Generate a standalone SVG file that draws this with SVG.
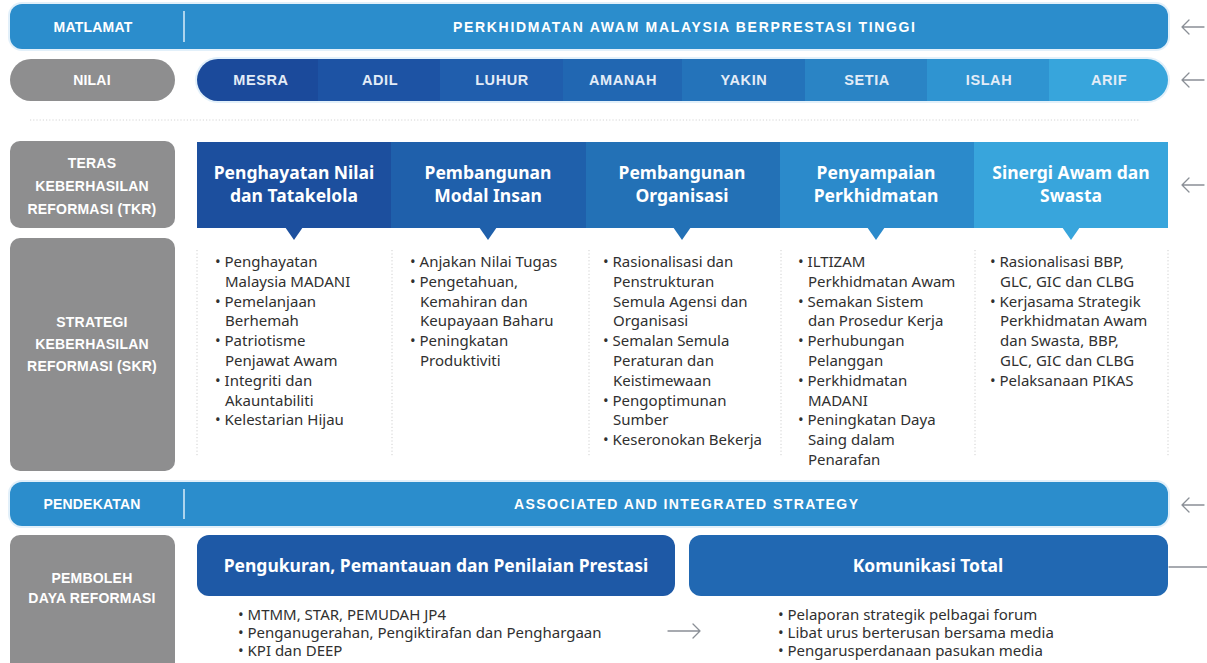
<svg xmlns="http://www.w3.org/2000/svg" width="1207" height="663" viewBox="0 0 1207 663">
<style>
.lbl{font-family:"Liberation Sans",Arial,sans-serif;font-weight:bold;font-size:14px;fill:#fff;text-anchor:middle;letter-spacing:0.2px}
.ttl{font-family:"Liberation Sans",Arial,sans-serif;font-weight:bold;font-size:14px;fill:#fff;letter-spacing:1px}
.val{font-family:"Liberation Sans",Arial,sans-serif;font-weight:bold;font-size:14.5px;fill:#e3ecf7;text-anchor:middle;letter-spacing:0.6px}
.hdr{font-family:"Noto Sans","Open Sans",sans-serif;font-weight:bold;font-size:17.5px;fill:#fff;text-anchor:middle}
.bul{font-family:"Noto Sans","Open Sans",sans-serif;font-size:15px;fill:#303030}
.gray{fill:#8e8e8f}
.bar{fill:#2b8dcc}
.glow{fill:#e2f0fa}
.div{stroke:#cfe6f6;stroke-width:1.6}
.sep{stroke:#cfcfcf;stroke-width:1;stroke-dasharray:1.2 2.2}
.arr{fill:none;stroke:#8a8f96;stroke-width:1.3;stroke-linecap:round;stroke-linejoin:round}
</style>
<defs>
<clipPath id="valclip"><rect x="197" y="59" width="971" height="42" rx="21"/></clipPath>
</defs>
<rect width="1207" height="663" fill="#fff"/>

<g id="matlamat">
<rect class="glow" x="8" y="2" width="1162" height="49" rx="14"/>
<rect class="bar" x="10" y="4" width="1158" height="45" rx="12"/>
<line class="div" x1="184" y1="11" x2="184" y2="42"/>
<text class="lbl" x="93" y="32">MATLAMAT</text>
<text class="ttl" x="453" y="32" textLength="463" lengthAdjust="spacing">PERKHIDMATAN AWAM MALAYSIA BERPRESTASI TINGGI</text>
</g>

<g id="nilai">
<rect class="gray" x="10" y="59" width="165" height="42" rx="21"/>
<text class="lbl" x="92" y="85">NILAI</text>
</g>

<g id="nilai-values">
<rect class="glow" x="195" y="57" width="975" height="46" rx="23"/>
<g clip-path="url(#valclip)">
<rect x="197" y="59" width="122" height="42" fill="#1b4a9b"/>
<rect x="318" y="59" width="123" height="42" fill="#1d53a4"/>
<rect x="440" y="59" width="124" height="42" fill="#205ead"/>
<rect x="563" y="59" width="120" height="42" fill="#2167b2"/>
<rect x="682" y="59" width="124" height="42" fill="#2473ba"/>
<rect x="805" y="59" width="123" height="42" fill="#2a84c5"/>
<rect x="927" y="59" width="123" height="42" fill="#2f94d1"/>
<rect x="1049" y="59" width="119" height="42" fill="#37a5dc"/>
</g>
<text class="val" x="261" y="85">MESRA</text>
<text class="val" x="380" y="85">ADIL</text>
<text class="val" x="502" y="85">LUHUR</text>
<text class="val" x="623" y="85">AMANAH</text>
<text class="val" x="744" y="85">YAKIN</text>
<text class="val" x="867" y="85">SETIA</text>
<text class="val" x="989" y="85">ISLAH</text>
<text class="val" x="1109" y="85">ARIF</text>
</g>

<line x1="30" y1="120" x2="1140" y2="120" stroke="#d4d4d4" stroke-width="1" stroke-dasharray="1.2 2"/>

<g id="tkr">
<rect class="gray" x="10" y="141" width="165" height="87" rx="10"/>
<text class="lbl" x="92" y="168">TERAS</text>
<text class="lbl" x="92" y="191">KEBERHASILAN</text>
<text class="lbl" x="92" y="214">REFORMASI (TKR)</text>
</g>

<g id="tkr-1">
<rect x="197" y="142" width="195" height="86" fill="#1c4f9e"/>
<path d="M285,227 L303,227 L294,240 Z" fill="#1c4f9e"/>
<text class="hdr" x="294" y="179">Penghayatan Nilai</text>
<text class="hdr" x="294" y="202">dan Tatakelola</text>
</g>
<g id="tkr-2">
<rect x="391" y="142" width="196" height="86" fill="#1f60ab"/>
<path d="M479,227 L497,227 L488,240 Z" fill="#1f60ab"/>
<text class="hdr" x="488" y="179">Pembangunan</text>
<text class="hdr" x="488" y="202">Modal Insan</text>
</g>
<g id="tkr-3">
<rect x="586" y="142" width="195" height="86" fill="#2371b6"/>
<path d="M673,227 L691,227 L682,240 Z" fill="#2371b6"/>
<text class="hdr" x="682" y="179">Pembangunan</text>
<text class="hdr" x="682" y="202">Organisasi</text>
</g>
<g id="tkr-4">
<rect x="780" y="142" width="195" height="86" fill="#2b8acb"/>
<path d="M867,227 L885,227 L876,240 Z" fill="#2b8acb"/>
<text class="hdr" x="876" y="179">Penyampaian</text>
<text class="hdr" x="876" y="202">Perkhidmatan</text>
</g>
<g id="tkr-5">
<rect x="974" y="142" width="194" height="86" fill="#38a5dc"/>
<path d="M1062,227 L1080,227 L1071,240 Z" fill="#38a5dc"/>
<text class="hdr" x="1071" y="179">Sinergi Awam dan</text>
<text class="hdr" x="1071" y="202">Swasta</text>
</g>

<g id="skr">
<rect class="gray" x="10" y="238" width="165" height="233" rx="10"/>
<text class="lbl" x="92" y="327">STRATEGI</text>
<text class="lbl" x="92" y="349">KEBERHASILAN</text>
<text class="lbl" x="92" y="371">REFORMASI (SKR)</text>
</g>

<g id="skr-separators">
<line class="sep" x1="197" y1="250" x2="197" y2="456"/>
<line class="sep" x1="392" y1="250" x2="392" y2="456"/>
<line class="sep" x1="589" y1="250" x2="589" y2="456"/>
<line class="sep" x1="781" y1="250" x2="781" y2="456"/>
<line class="sep" x1="975" y1="250" x2="975" y2="456"/>
<line class="sep" x1="1168" y1="250" x2="1168" y2="456"/>
</g>

<g id="skr-1">
<text class="bul">
<tspan x="215" y="267">• Penghayatan</tspan>
<tspan x="225" dy="19.8">Malaysia MADANI</tspan>
<tspan x="215" dy="19.8">• Pemelanjaan</tspan>
<tspan x="225" dy="19.8">Berhemah</tspan>
<tspan x="215" dy="19.8">• Patriotisme</tspan>
<tspan x="225" dy="19.8">Penjawat Awam</tspan>
<tspan x="215" dy="19.8">• Integriti dan</tspan>
<tspan x="225" dy="19.8">Akauntabiliti</tspan>
<tspan x="215" dy="19.8">• Kelestarian Hijau</tspan>
</text>
</g>
<g id="skr-2">
<text class="bul">
<tspan x="410" y="267">• Anjakan Nilai Tugas</tspan>
<tspan x="410" dy="19.8">• Pengetahuan,</tspan>
<tspan x="420" dy="19.8">Kemahiran dan</tspan>
<tspan x="420" dy="19.8">Keupayaan Baharu</tspan>
<tspan x="410" dy="19.8">• Peningkatan</tspan>
<tspan x="420" dy="19.8">Produktiviti</tspan>
</text>
</g>
<g id="skr-3">
<text class="bul">
<tspan x="603" y="267">• Rasionalisasi dan</tspan>
<tspan x="613" dy="19.8">Penstrukturan</tspan>
<tspan x="613" dy="19.8">Semula Agensi dan</tspan>
<tspan x="613" dy="19.8">Organisasi</tspan>
<tspan x="603" dy="19.8">• Semalan Semula</tspan>
<tspan x="613" dy="19.8">Peraturan dan</tspan>
<tspan x="613" dy="19.8">Keistimewaan</tspan>
<tspan x="603" dy="19.8">• Pengoptimunan</tspan>
<tspan x="613" dy="19.8">Sumber</tspan>
<tspan x="603" dy="19.8">• Keseronokan Bekerja</tspan>
</text>
</g>
<g id="skr-4">
<text class="bul">
<tspan x="798" y="267">• ILTIZAM</tspan>
<tspan x="808" dy="19.8">Perkhidmatan Awam</tspan>
<tspan x="798" dy="19.8">• Semakan Sistem</tspan>
<tspan x="808" dy="19.8">dan Prosedur Kerja</tspan>
<tspan x="798" dy="19.8">• Perhubungan</tspan>
<tspan x="808" dy="19.8">Pelanggan</tspan>
<tspan x="798" dy="19.8">• Perkhidmatan</tspan>
<tspan x="808" dy="19.8">MADANI</tspan>
<tspan x="798" dy="19.8">• Peningkatan Daya</tspan>
<tspan x="808" dy="19.8">Saing dalam</tspan>
<tspan x="808" dy="19.8">Penarafan</tspan>
</text>
</g>
<g id="skr-5">
<text class="bul">
<tspan x="990" y="267">• Rasionalisasi BBP,</tspan>
<tspan x="1000" dy="19.8">GLC, GIC dan CLBG</tspan>
<tspan x="990" dy="19.8">• Kerjasama Strategik</tspan>
<tspan x="1000" dy="19.8">Perkhidmatan Awam</tspan>
<tspan x="1000" dy="19.8">dan Swasta, BBP,</tspan>
<tspan x="1000" dy="19.8">GLC, GIC dan CLBG</tspan>
<tspan x="990" dy="19.8">• Pelaksanaan PIKAS</tspan>
</text>
</g>

<g id="pendekatan">
<rect class="glow" x="8" y="480" width="1162" height="48" rx="14"/>
<rect class="bar" x="10" y="482" width="1158" height="44" rx="12"/>
<line class="div" x1="184" y1="489" x2="184" y2="519"/>
<text class="lbl" x="92" y="509">PENDEKATAN</text>
<text class="ttl" x="514" y="509" textLength="345" lengthAdjust="spacing">ASSOCIATED AND INTEGRATED STRATEGY</text>
</g>

<g id="pemboleh">
<rect class="gray" x="10" y="535" width="165" height="140" rx="10"/>
<text class="lbl" x="92" y="583">PEMBOLEH</text>
<text class="lbl" x="92" y="603">DAYA REFORMASI</text>
</g>

<g id="pengukuran">
<rect x="197" y="535" width="478" height="61" rx="12" fill="#1e59a6"/>
<text class="hdr" x="436" y="572">Pengukuran, Pemantauan dan Penilaian Prestasi</text>
<text class="bul">
<tspan x="238" y="620">• MTMM, STAR, PEMUDAH JP4</tspan>
<tspan x="238" dy="18">• Penganugerahan, Pengiktirafan dan Penghargaan</tspan>
<tspan x="238" dy="18">• KPI dan DEEP</tspan>
</text>
</g>

<g id="komunikasi">
<rect x="689" y="535" width="479" height="61" rx="12" fill="#2168b2"/>
<text class="hdr" x="928" y="572">Komunikasi Total</text>
<text class="bul">
<tspan x="778" y="620">• Pelaporan strategik pelbagai forum</tspan>
<tspan x="778" dy="18">• Libat urus berterusan bersama media</tspan>
<tspan x="778" dy="18">• Pengarusperdanaan pasukan media</tspan>
</text>
</g>

<g id="connectors">
<path class="arr" d="M1204,27 H1182 M1189,20 L1182,27 L1189,34"/>
<path class="arr" d="M1204,80 H1182 M1189,73 L1182,80 L1189,87"/>
<path class="arr" d="M1204,185 H1182 M1189,178 L1182,185 L1189,192"/>
<path class="arr" d="M1204,505 H1182 M1189,498 L1182,505 L1189,512"/>
<path class="arr" d="M1169,567 H1207"/>
<path class="arr" d="M668,631 H700 M693,624 L700,631 L693,638"/>
</g>
</svg>
